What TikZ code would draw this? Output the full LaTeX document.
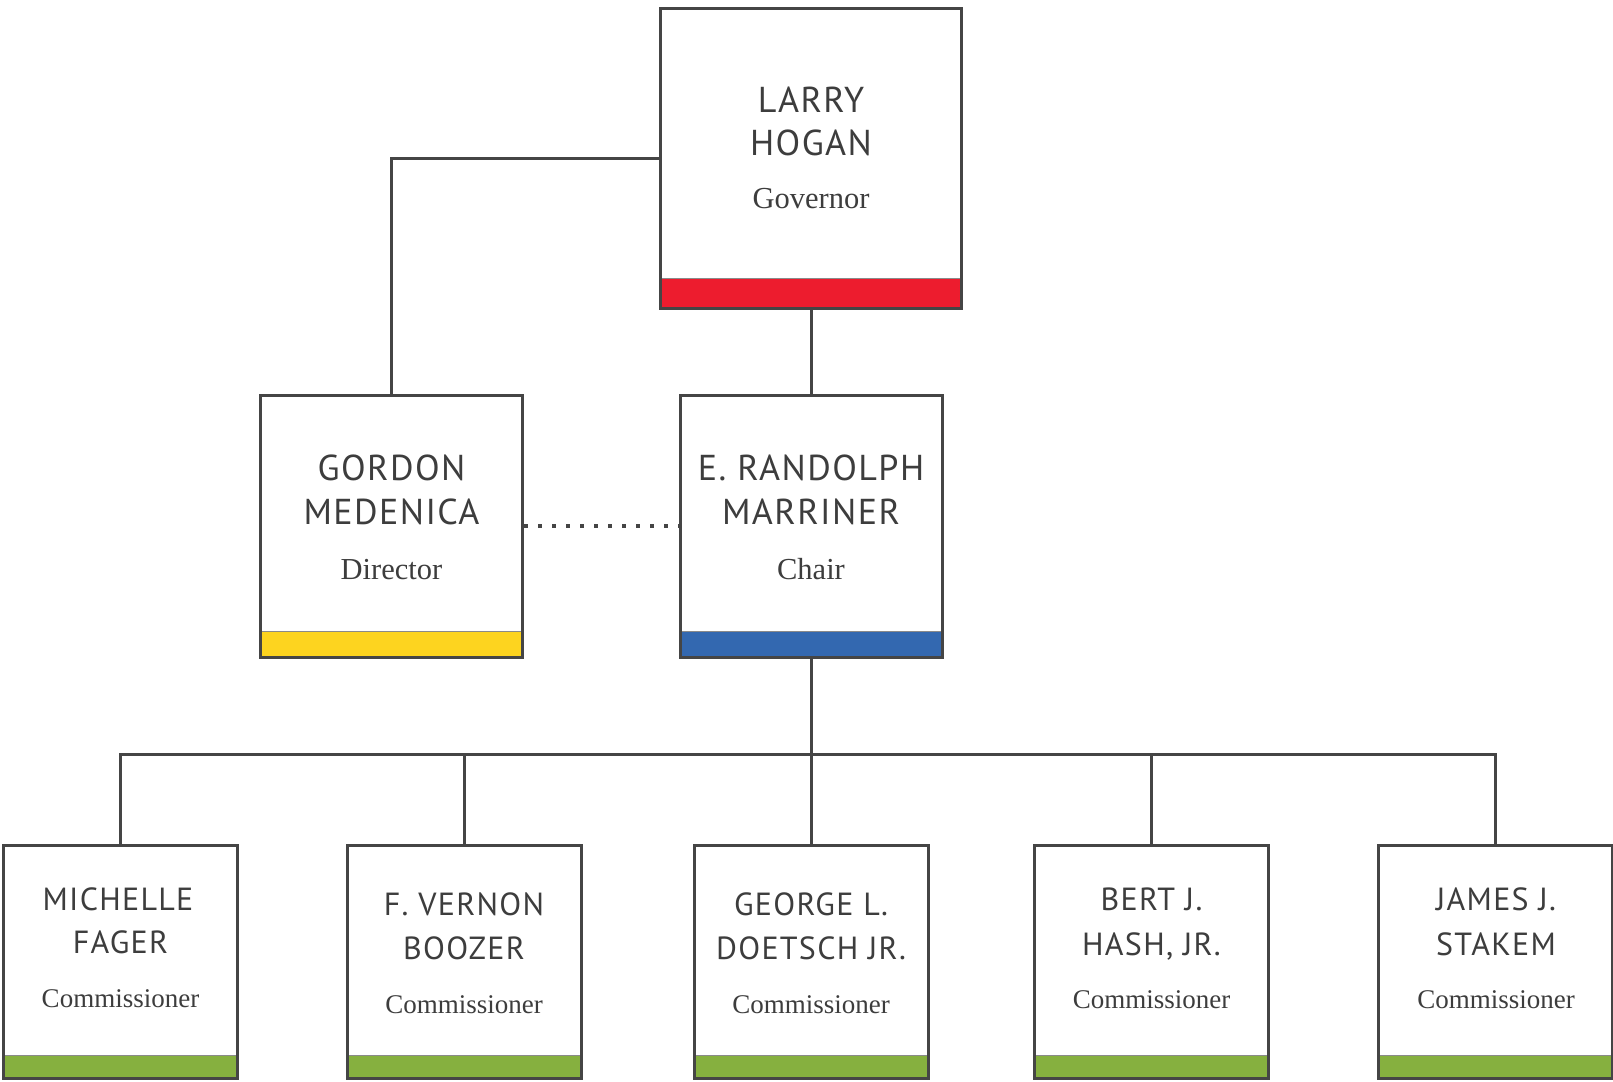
\documentclass[tikz,border=0pt]{standalone}
\usepackage{fontspec}
\setmainfont{Liberation Serif}
\newfontfamily\namefont[LetterSpace=4]{PT Sans}
\definecolor{linec}{HTML}{454545}
\definecolor{textc}{HTML}{3D3D3D}
\definecolor{sepc}{HTML}{8A8A8A}
\definecolor{barred}{HTML}{ED1C2E}
\definecolor{baryellow}{HTML}{FDD41F}
\definecolor{barblue}{HTML}{3368B0}
\definecolor{bargreen}{HTML}{86B03F}
\tikzset{
  orgbox/.style n args={4}{draw=linec, line width=3pt, fill=white, inner sep=0pt,
    minimum width=#1, minimum height=#2,
    path picture={
      \fill[#3] (path picture bounding box.south west) rectangle ([yshift=#4]path picture bounding box.south east);
      \draw[sepc, line width=1pt] ([yshift=#4]path picture bounding box.south west) -- ([yshift=#4]path picture bounding box.south east);
    }},
  bignm/.style={font=\namefont\fontsize{36}{40}\selectfont, text=textc, anchor=base, inner sep=0pt},
  smallnm/.style={font=\namefont\fontsize{32}{36}\selectfont, text=textc, anchor=base, inner sep=0pt},
  bigrole/.style={font=\fontsize{30.5}{34}\selectfont, text=textc, anchor=base, inner sep=0pt},
  smallrole/.style={font=\fontsize{27}{30}\selectfont, text=textc, anchor=base, inner sep=0pt},
  conn/.style={draw=linec, line width=3pt},
  dotconn/.style={draw=linec, line width=4pt, dash pattern=on 4pt off 10pt}
}
\begin{document}
\begin{tikzpicture}[x=1pt,y=-1pt]
\useasboundingbox (0,0) rectangle (1613,1081);
% boxes
\node[orgbox={301pt}{300pt}{barred}{30pt}] (gov) at (811,158.5) {};
\node[orgbox={262pt}{262pt}{baryellow}{26pt}] (gordon) at (391.5,526) {};
\node[orgbox={262pt}{262pt}{barblue}{26pt}] (chair) at (811,526) {};
\node[orgbox={234pt}{233pt}{bargreen}{23pt}] (c1) at (120.5,961.5) {};
\node[orgbox={234pt}{233pt}{bargreen}{23pt}] (c2) at (464,961.5) {};
\node[orgbox={234pt}{233pt}{bargreen}{23pt}] (c3) at (811,961.5) {};
\node[orgbox={234pt}{233pt}{bargreen}{23pt}] (c4) at (1151.5,961.5) {};
\node[orgbox={234pt}{233pt}{bargreen}{23pt}] (c5) at (1495,961.5) {};
% texts
\node[bignm] (govA) at (811,112) {LARRY};
\node[bignm] (govB) at (811,155) {HOGAN};
\node[bigrole] (govR) at (811,208) {Governor};
\node[bignm] (gorA) at (391.5,480) {GORDON};
\node[bignm] (gorB) at (391.5,524) {MEDENICA};
\node[bigrole] (gorR) at (391.5,579) {Director};
\node[bignm] (chA) at (811,480) {E. RANDOLPH};
\node[bignm] (chB) at (811,524) {MARRINER};
\node[bigrole] (chR) at (811,579) {Chair};
\node[smallnm] (c1A) at (118,910.7) {MICHELLE};
\node[smallnm] (c1B) at (120.5,953) {FAGER};
\node[smallrole] (c1R) at (120.5,1007.7) {Commissioner};
\node[smallnm] (c2A) at (464,915.7) {F. VERNON};
\node[smallnm] (c2B) at (464,959) {BOOZER};
\node[smallrole] (c2R) at (464,1013) {Commissioner};
\node[smallnm] (c3A) at (811,915) {GEORGE L.};
\node[smallnm] (c3B) at (811,959) {DOETSCH JR.};
\node[smallrole] (c3R) at (811,1013) {Commissioner};
\node[smallnm] (c4A) at (1151.5,910.7) {BERT J.};
\node[smallnm] (c4B) at (1151.5,955) {HASH, JR.};
\node[smallrole] (c4R) at (1151.5,1008) {Commissioner};
\node[smallnm] (c5A) at (1496,910.7) {JAMES J.};
\node[smallnm] (c5B) at (1496,955) {STAKEM};
\node[smallrole] (c5R) at (1496,1008) {Commissioner};
% connectors
\coordinate (bus) at (811,754);
\draw[conn] (gov.west) -| (gordon.north);
\draw[conn] (gov.south) -- (chair.north);
\draw[dotconn] (gordon.east) -- (chair.west);
\draw[conn] (chair.south) -- (bus);
\draw[conn] (c1.north) |- (bus) -| (c5.north);
\draw[conn] (c2.north) -- (c2.north |- bus);
\draw[conn] (c3.north) -- (c3.north |- bus);
\draw[conn] (c4.north) -- (c4.north |- bus);
\end{tikzpicture}
\end{document}
